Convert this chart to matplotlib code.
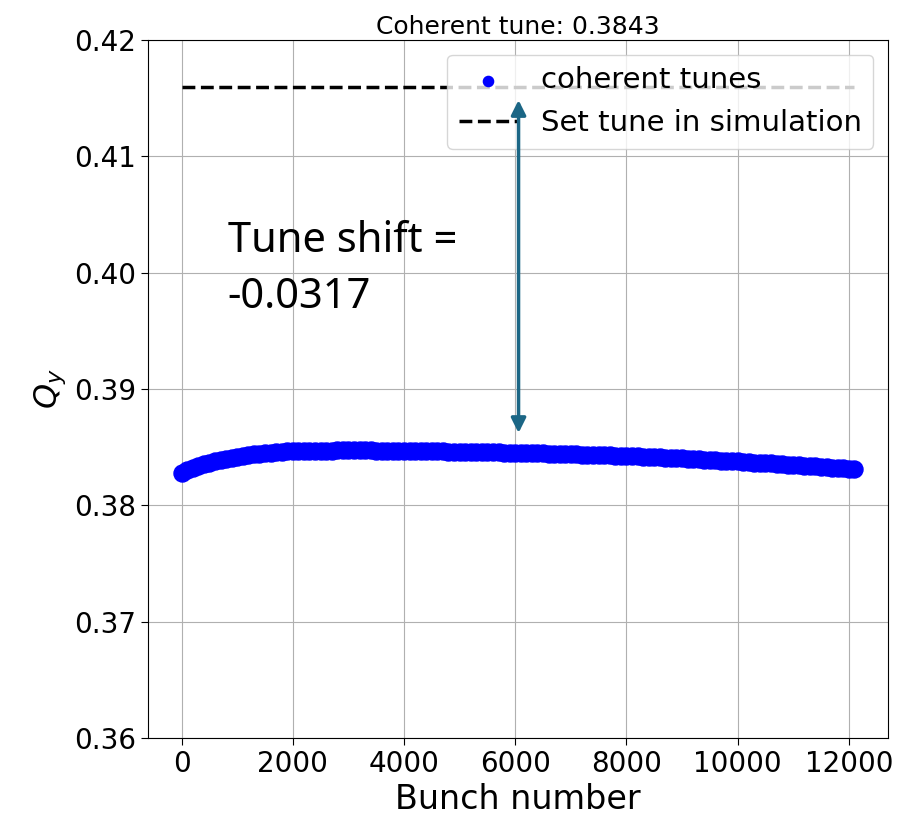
'''
Coherent tune along the bunch train vs the set tune
'''
import matplotlib
matplotlib.use('Agg')
import matplotlib.pyplot as plt

# bunch number and coherent Qy
bunch = [0, 100, 200, 300, 400, 500, 600, 700, 800, 900,
         1000, 1100, 1200, 1300, 1400, 1500, 1600, 1700, 1800, 1900,
         2000, 2100, 2200, 2300, 2400, 2500, 2600, 2700, 2800, 2900,
         3000, 3100, 3200, 3300, 3400, 3500, 3600, 3700, 3800, 3900,
         4000, 4100, 4200, 4300, 4400, 4500, 4600, 4700, 4800, 4900,
         5000, 5100, 5200, 5300, 5400, 5500, 5600, 5700, 5800, 5900,
         6000, 6100, 6200, 6300, 6400, 6500, 6600, 6700, 6800, 6900,
         7000, 7100, 7200, 7300, 7400, 7500, 7600, 7700, 7800, 7900,
         8000, 8100, 8200, 8300, 8400, 8500, 8600, 8700, 8800, 8900,
         9000, 9100, 9200, 9300, 9400, 9500, 9600, 9700, 9800, 9900,
         10000, 10100, 10200, 10300, 10400, 10500, 10600, 10700, 10800, 10900,
         11000, 11100, 11200, 11300, 11400, 11500, 11600, 11700, 11800, 11900,
         12000, 12100]
qy = [0.38275, 0.38300, 0.38320, 0.38337, 0.38352, 0.38368, 0.38380, 0.38390, 0.38399, 0.38408,
      0.38417, 0.38426, 0.38432, 0.38438, 0.38443, 0.38448, 0.38452, 0.38457, 0.38461, 0.38465,
      0.38468, 0.38469, 0.38469, 0.38470, 0.38470, 0.38471, 0.38471, 0.38471, 0.38472, 0.38472,
      0.38472, 0.38472, 0.38472, 0.38472, 0.38472, 0.38471, 0.38471, 0.38470, 0.38470, 0.38469,
      0.38468, 0.38467, 0.38467, 0.38466, 0.38465, 0.38464, 0.38463, 0.38463, 0.38462, 0.38461,
      0.38460, 0.38459, 0.38458, 0.38458, 0.38457, 0.38456, 0.38455, 0.38455, 0.38454, 0.38453,
      0.38452, 0.38451, 0.38450, 0.38448, 0.38447, 0.38446, 0.38444, 0.38443, 0.38442, 0.38440,
      0.38439, 0.38438, 0.38436, 0.38435, 0.38433, 0.38432, 0.38430, 0.38429, 0.38427, 0.38426,
      0.38424, 0.38422, 0.38420, 0.38418, 0.38416, 0.38414, 0.38412, 0.38410, 0.38407, 0.38405,
      0.38403, 0.38401, 0.38398, 0.38396, 0.38393, 0.38391, 0.38388, 0.38385, 0.38382, 0.38380,
      0.38377, 0.38374, 0.38371, 0.38368, 0.38366, 0.38363, 0.38360, 0.38357, 0.38354, 0.38351,
      0.38348, 0.38345, 0.38342, 0.38338, 0.38335, 0.38332, 0.38329, 0.38325, 0.38322, 0.38318,
      0.38315, 0.38311]

set_tune = 0.416
coherent_tune = 0.3843
tune_shift = -0.0317

fig = plt.figure(figsize=(9.04, 8.17), dpi=100)
ax = fig.add_axes([0.1637, 0.0967, 0.8186, 0.8543])

ax.scatter(bunch, qy, s=150, color='blue', label='coherent tunes', zorder=3)
ax.plot([bunch[0], bunch[-1]], [set_tune, set_tune], 'k--', lw=2.5,
        label='Set tune in simulation', zorder=2)

ax.set_ylim(0.36, 0.42)
ax.set_yticks([0.36, 0.37, 0.38, 0.39, 0.40, 0.41, 0.42])
ax.set_xticks([0, 2000, 4000, 6000, 8000, 10000, 12000])
ax.tick_params(labelsize=20, length=5)
ax.grid(True)
ax.set_axisbelow(True)

ax.set_xlabel('Bunch number', fontsize=24)
ax.set_ylabel('$Q_y$', fontsize=23)
ax.set_title('Coherent tune: %.4f' % coherent_tune, fontsize=18, pad=4)

ax.legend(loc='upper right', fontsize=21, markerscale=0.6)

# double arrow for the tune shift
ax.annotate('', xy=(6060, 0.41484), xytext=(6060, 0.38622),
            arrowprops=dict(arrowstyle='<|-|>', color='#1b6685', lw=2.5,
                            mutation_scale=22, shrinkA=0, shrinkB=0),
            zorder=6)
ax.text(830, 0.40178, 'Tune shift =', fontsize=30, family='Noto Sans', va='baseline')
ax.text(830, 0.39696, '%.4f' % tune_shift, fontsize=30, family='Noto Sans', va='baseline')

plt.savefig('out.png', dpi=100)
